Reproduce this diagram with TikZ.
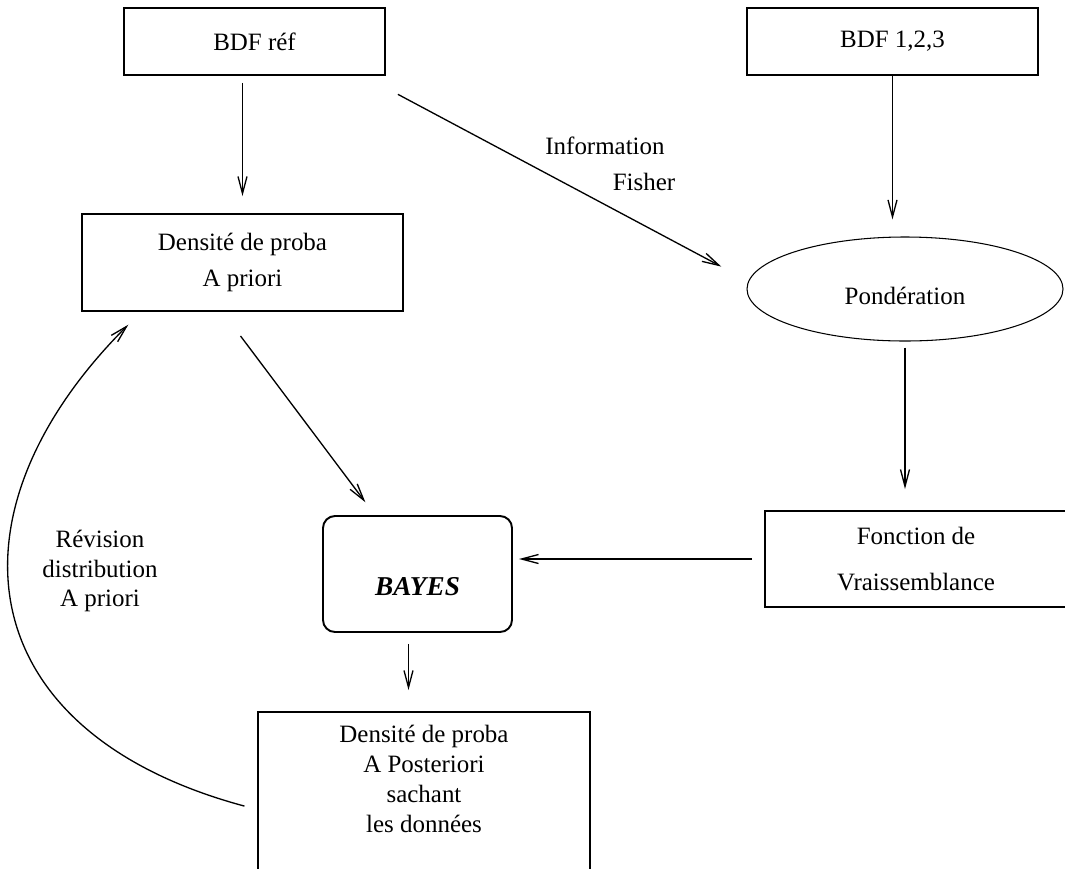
\documentclass[tikz,border=0pt]{standalone}
\usepackage{fontspec}
\setmainfont{Liberation Serif}
\usetikzlibrary{arrows.meta,shapes.geometric}

\begin{document}
\begin{tikzpicture}[x=0.2mm, y=-0.2mm,
        font=\fontsize{14.2}{17}\selectfont,
        box/.style={draw, line width=1.1pt, inner sep=0pt},
        arr/.style={-{Straight Barb[length=3.4mm, width=1.8mm]}, line width=0.75pt}]
        \useasboundingbox (0,0) rectangle (1065,868);
        \clip (0,0) rectangle (1065,868);

        \node[box, minimum width=52.2mm, minimum height=13.4mm] (ref) at (254.5,41.5) {BDF réf};
        \node[box, minimum width=58.2mm, minimum height=13.4mm] (bdf) at (892.5,41.5) {BDF 1,2,3};
        \node[box, align=center, minimum width=64.2mm, minimum height=19.4mm] (prior) at (242.5,262.5) {Densité de proba\\[4pt] A priori};
        \node[ellipse, draw, line width=0.6pt, inner sep=0pt, minimum width=63.2mm, minimum height=20.8mm, text height=6mm, text depth=0pt] (pond) at (905,289) {Pondération};
        \node[box, align=center, minimum width=60.4mm, minimum height=19.2mm] (fonc) at (916,559) {Fonction de\\[9pt] Vraissemblance};
        \node[box, rounded corners=2.4mm, minimum width=37.8mm, minimum height=23.2mm, text height=8.4mm, text depth=0pt, font=\fontsize{15.5}{18}\selectfont\bfseries\itshape] (bayes) at (417.5,574) {BAYES};
        \node[box, anchor=north, minimum width=66.4mm, text height=6.2mm, text depth=27.6mm] (post) at (424,711) {\begin{tabular}[t]{@{}c@{}}Densité de proba\\ A Posteriori\\ sachant\\ les données\end{tabular}}; % Cut by the frame.

        \node[anchor=base] (info) at (605,154) {Information};
        \node[anchor=base] (fisher) at (644,190) {Fisher};
        \node[align=center] (rev) at (100,571) {Révision\\ distribution\\ A priori};

        \draw[arr, shorten <=1.4mm, shorten >=3.4mm] (ref.south -| prior.north) -- (prior.north);
        \draw[arr, shorten >=3.4mm] (bdf.south) -- (bdf.south |- pond.north);
        \draw[arr, shorten <=2.7mm, shorten >=5.7mm] ([yshift=-2.4mm]ref.south east) -- ([yshift=1.8mm]pond.west);
        \draw[arr, shorten <=6mm, shorten >=3.2mm] ([xshift=-4mm]prior.south) -- ([xshift=-8.5mm]bayes.north);
        \draw[arr, shorten <=1.2mm, shorten >=4.2mm] (pond.south) -- (pond.south |- fonc.north);
        \draw[arr, shorten <=2.4mm, shorten >=1.2mm] (fonc.west) -- (fonc.west -| bayes.east);
        \draw[arr, shorten <=2.2mm, shorten >=4.2mm] ([xshift=-1.8mm]bayes.south) -- ([xshift=-1.8mm]bayes.south |- post.north);
        \draw[arr, shorten <=2.6mm, shorten >=3.6mm] ([yshift=-2.6mm]post.west) .. controls +(-290,-78) and +(-200,200) .. ([xshift=12mm]prior.south west); % Loop back.
    \end{tikzpicture}
\end{document}
